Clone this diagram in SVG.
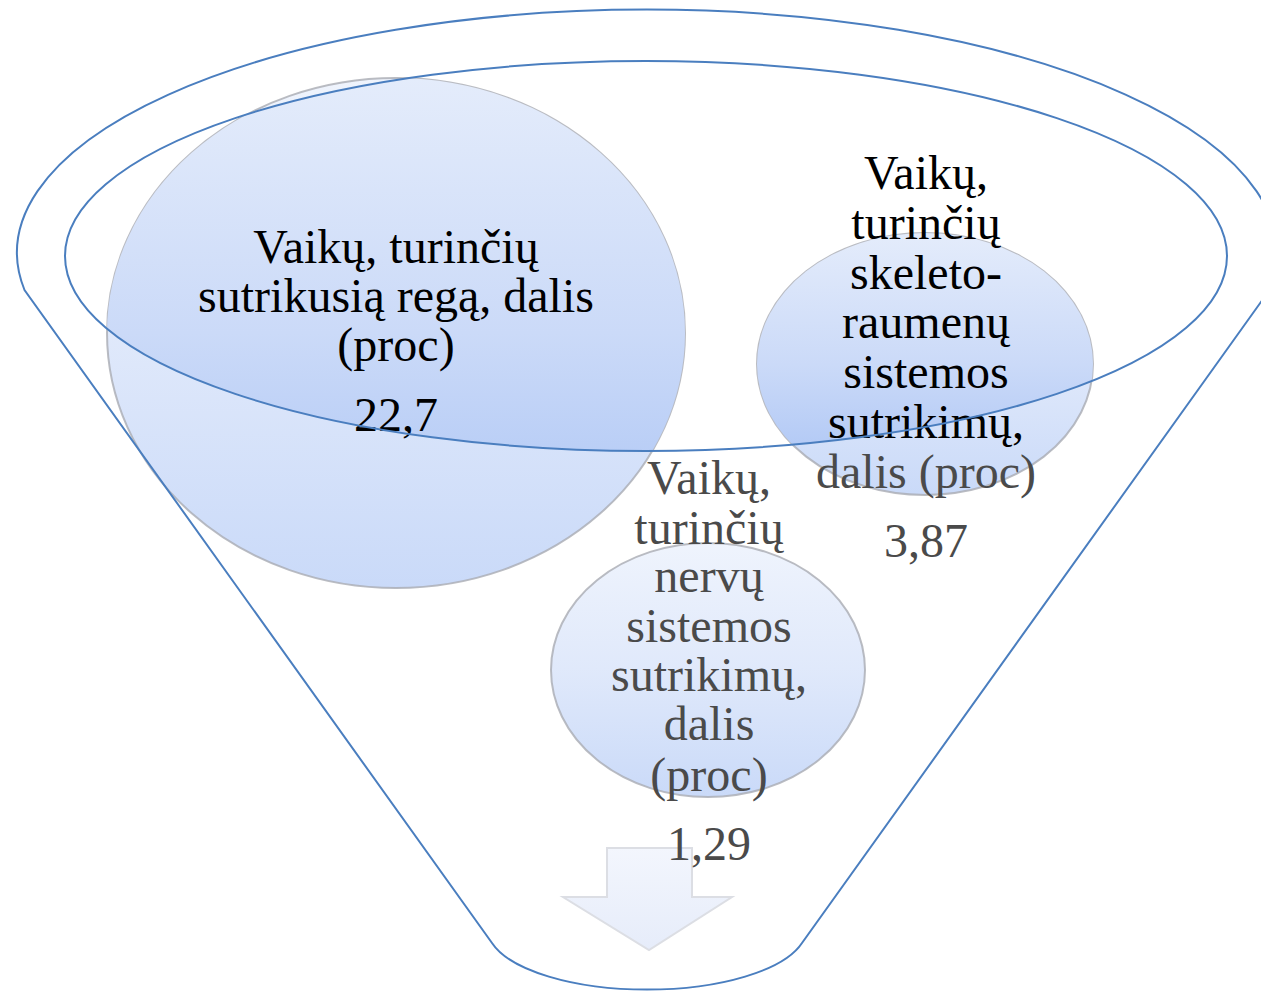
<svg xmlns="http://www.w3.org/2000/svg" width="1261" height="991" viewBox="0 0 1261 991">
  <style>
    .txt { font-family: "Liberation Serif", "Times New Roman", serif; font-size: 48px; text-anchor: middle; }
    .dark { fill: #000000; }
    .grey { fill: #4a4a4a; }
    .bubble { fill: url(#bubbleGrad); }
    .bubble-out { fill: url(#bubbleGrad); fill-opacity: 0.6; stroke: #a9abb3; stroke-width: 2; stroke-opacity: 0.8; }
    .funnel { fill: none; stroke: #4a7ebf; stroke-width: 2; }
  </style>
  <defs>
    <linearGradient id="bubbleGrad" x1="0" y1="0" x2="0" y2="1">
      <stop offset="0" stop-color="#e4ecfb"/>
      <stop offset="0.5" stop-color="#cbdaf8"/>
      <stop offset="1" stop-color="#a6c1f4"/>
    </linearGradient>
    <linearGradient id="arrowGrad" x1="0" y1="0" x2="0" y2="1">
      <stop offset="0" stop-color="#f3f6fd"/>
      <stop offset="1" stop-color="#e6ecfa"/>
    </linearGradient>
    <clipPath id="topClip">
      <ellipse cx="646" cy="256" rx="581" ry="195"/>
    </clipPath>
  </defs>

  <g id="connectors">
    <polygon points="607,848 692,848 692,897 732,897 649,950 563,897 607,897" fill="url(#arrowGrad)" stroke="#dcdee4" stroke-width="2"/>
  </g>

  <g id="node-vision">
    <ellipse class="bubble-out" cx="396" cy="333" rx="289" ry="255"/>
    <ellipse class="bubble" cx="396" cy="333" rx="289" ry="255" clip-path="url(#topClip)"/>
    <text class="txt dark" x="396" y="263">Vaikų, turinčių</text>
    <text class="txt dark" x="396" y="312">sutrikusią regą, dalis</text>
    <text class="txt dark" x="396" y="361">(proc)</text>
    <text class="txt dark" x="396" y="431">22,7</text>
  </g>

  <g id="node-skeletal">
    <ellipse class="bubble-out" cx="925" cy="364" rx="168" ry="131"/>
    <ellipse class="bubble" cx="925" cy="364" rx="168" ry="131" clip-path="url(#topClip)"/>
    <text class="txt dark" x="926" y="189">Vaikų,</text>
    <text class="txt dark" x="926" y="239">turinčių</text>
    <text class="txt dark" x="926" y="289">skeleto-</text>
    <text class="txt dark" x="926" y="338">raumenų</text>
    <text class="txt dark" x="926" y="388">sistemos</text>
    <text class="txt dark" x="926" y="438">sutrikimų,</text>
    <text class="txt grey" x="926" y="488">dalis (proc)</text>
    <text class="txt grey" x="926" y="557">3,87</text>
  </g>

  <g id="node-nervous">
    <ellipse class="bubble-out" cx="708" cy="670" rx="157" ry="127"/>
    <text class="txt grey" x="709" y="494">Vaikų,</text>
    <text class="txt grey" x="709" y="544">turinčių</text>
    <text class="txt grey" x="709" y="592">nervų</text>
    <text class="txt grey" x="709" y="642">sistemos</text>
    <text class="txt grey" x="709" y="691">sutrikimų,</text>
    <text class="txt grey" x="709" y="740">dalis</text>
    <text class="txt grey" x="709" y="791">(proc)</text>
    <text class="txt grey" x="709" y="860">1,29</text>
  </g>

  <g id="funnel">
    <path class="funnel" d="M 24.5 290 A 630 243 0 1 1 1269.5 290 L 802 943 A 160 62 0 0 1 492 943 Z"/>
    <ellipse class="funnel" cx="646" cy="256" rx="581" ry="195"/>
  </g>
</svg>
